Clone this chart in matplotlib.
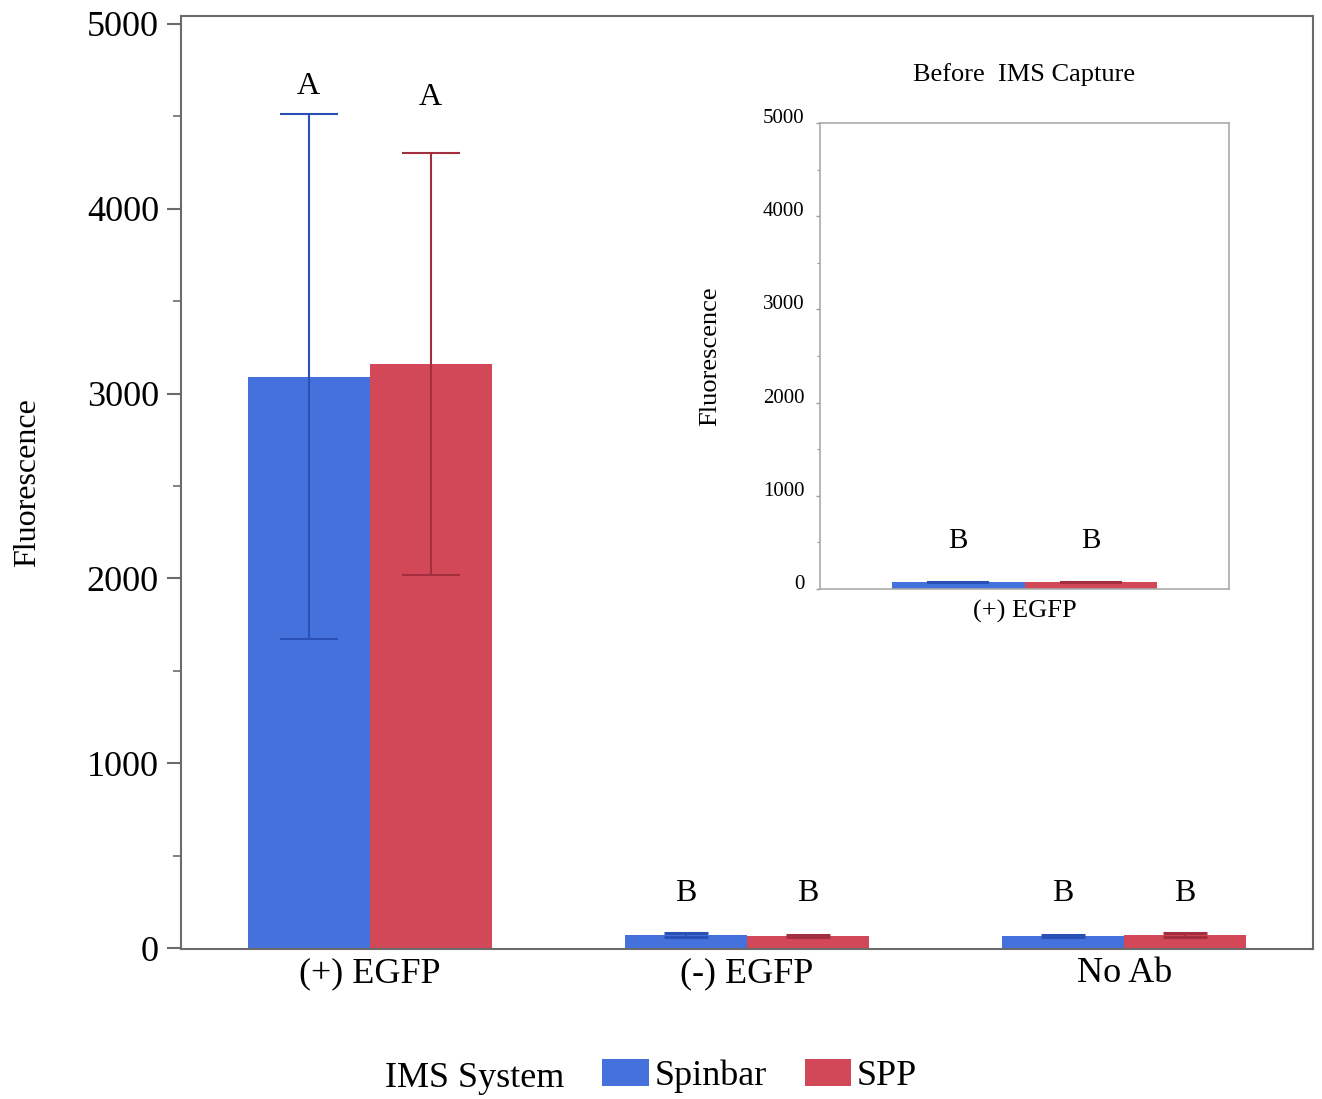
import numpy as np
import matplotlib
matplotlib.use("Agg")
import matplotlib.pyplot as plt
from matplotlib.patches import Patch
from matplotlib.transforms import ScaledTranslation

plt.rcParams.update({"font.family": ["Liberation Serif", "DejaVu Serif"]})

# data
groups = ["(+) EGFP", "(-) EGFP", "No Ab"]
systems = ["Spinbar", "SPP"]
spinbar_mean = [3092, 70, 65]
spinbar_err = [1422, 12, 5]
spp_mean = [3162, 65, 70]
spp_err = [1141, 5, 12]
spinbar_letters = ["A", "B", "B"]
spp_letters = ["A", "B", "B"]
spinbar_letter_y = [4660, 297, 297]
spp_letter_y = [4600, 297, 297]

before_group = ["(+) EGFP"]
before_spinbar = [75]
before_spinbar_err = [5]
before_spp = [75]
before_spp_err = [5]
before_letters = ["B", "B"]
before_letter_y = [515, 515]

blue = "#4571DC"
red = "#D24858"
blue_dark = "#2A4FB5"
red_dark = "#A32F3E"
spine_grey = "#6b6b6b"

fig = plt.figure(figsize=(13.22, 10.99), dpi=100)
ax = fig.add_axes([0.137, 0.1365, 0.856, 0.8485])

x = np.arange(len(groups))
w = 0.323
ax.bar(x - w / 2, spinbar_mean, w, color=blue)
ax.bar(x + w / 2, spp_mean, w, color=red)
for i in range(len(groups)):
    cs = 21 if i == 0 else 16
    lw = 1.5 if i == 0 else 2.2
    ax.errorbar(x[i] - w / 2, spinbar_mean[i], yerr=spinbar_err[i], fmt="none",
                ecolor=blue_dark, elinewidth=1.5, capsize=cs, capthick=lw)
    ax.errorbar(x[i] + w / 2, spp_mean[i], yerr=spp_err[i], fmt="none",
                ecolor=red_dark, elinewidth=1.5, capsize=cs, capthick=lw)
    ax.text(x[i] - w / 2, spinbar_letter_y[i], spinbar_letters[i],
            ha="center", va="center", fontsize=23)
    ax.text(x[i] + w / 2, spp_letter_y[i], spp_letters[i],
            ha="center", va="center", fontsize=23)

ax.set_xlim(-0.5, 2.5)
ax.set_ylim(-5, 5040)
ax.set_yticks([0, 1000, 2000, 3000, 4000, 5000])
ax.set_yticks(np.arange(500, 5000, 1000), minor=True)
ax.set_xticks(x)
ax.set_xticklabels(groups, fontsize=26)
ax.tick_params(axis="y", which="major", direction="out", length=10, width=1.5,
               color=spine_grey, labelsize=26, pad=6)
ax.tick_params(axis="y", which="minor", direction="out", length=6, width=1.2,
               color=spine_grey)
ax.tick_params(axis="x", length=0, pad=6)
for s in ax.spines.values():
    s.set_color(spine_grey)
    s.set_linewidth(1.5)
ax.set_ylabel("Fluorescence", fontsize=23, labelpad=32)

# inset: before IMS capture
ins = fig.add_axes([0.620, 0.464, 0.310, 0.424])
xi = np.arange(len(before_group))
ins.bar(xi - w / 2, before_spinbar, w, color=blue)
ins.bar(xi + w / 2, before_spp, w, color=red)
ins.errorbar(xi - w / 2, before_spinbar, yerr=before_spinbar_err, fmt="none",
             ecolor=blue_dark, elinewidth=1.2, capsize=22, capthick=1.5)
ins.errorbar(xi + w / 2, before_spp, yerr=before_spp_err, fmt="none",
             ecolor=red_dark, elinewidth=1.2, capsize=22, capthick=1.5)
ins.text(xi[0] - w / 2, before_letter_y[0], before_letters[0],
         ha="center", va="center", fontsize=21)
ins.text(xi[0] + w / 2, before_letter_y[1], before_letters[1],
         ha="center", va="center", fontsize=21)
ins.set_xlim(-0.5, 0.5)
ins.set_ylim(0, 5000)
ins.set_yticks([0, 1000, 2000, 3000, 4000, 5000])
ins.set_yticks(np.arange(500, 5000, 1000), minor=True)
ins.set_xticks(xi)
ins.set_xticklabels(before_group, fontsize=19)
ins.tick_params(axis="y", which="major", direction="out", length=3, width=1,
                color="#999999", labelsize=15, pad=8)
ins.tick_params(axis="y", which="minor", direction="out", length=2, width=0.8,
                color="#999999")
ins.tick_params(axis="x", length=0, pad=8)
for lab in ins.get_yticklabels():
    lab.set_transform(lab.get_transform() +
                      ScaledTranslation(0, 0.07, fig.dpi_scale_trans))
for s in ins.spines.values():
    s.set_color("#aaaaaa")
    s.set_linewidth(1.2)
ins.set_ylabel("Fluorescence", fontsize=19, labelpad=30)
ins.set_title("Before  IMS Capture", fontsize=19, pad=30)

# legend
fig.text(385 / 1322, 0.004, "IMS System", fontsize=26, ha="left", va="bottom")
handles = [Patch(facecolor=blue, label=systems[0]),
           Patch(facecolor=red, label=systems[1])]
fig.legend(handles=handles, loc="center left", ncol=2, frameon=False,
           bbox_to_anchor=(602 / 1322, 1 - 1076 / 1099), borderaxespad=0,
           borderpad=0, fontsize=26, handlelength=1.3, handleheight=0.8,
           handletextpad=0.15, columnspacing=1.05)

fig.savefig("out.png", dpi=100)
